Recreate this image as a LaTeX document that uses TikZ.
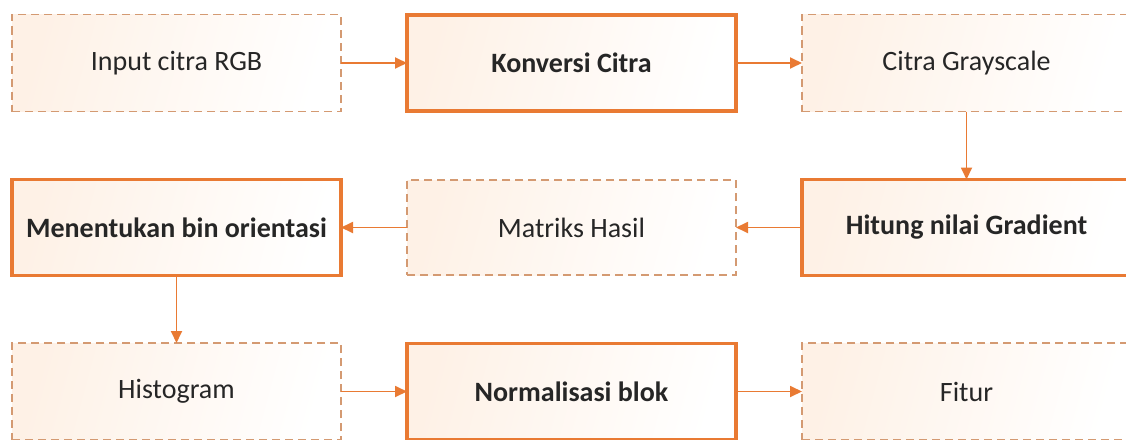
\documentclass[tikz,border=0pt]{standalone}
\usepackage{fontspec}
\setmainfont{Carlito}
\usetikzlibrary{arrows.meta}
\definecolor{orng}{HTML}{E97A33}
\definecolor{dashc}{HTML}{D49A72}
\definecolor{peach}{HTML}{FEF1E6}
\tikzset{
  x=1pt, y=-1pt,
  base/.style={rectangle, inner sep=0pt, outer sep=0pt, minimum width=329pt,
    left color=peach, right color=white, shading angle=75, font=\fontsize{28}{32}\selectfont, text=black!85},
  dbox/.style={base, draw=dashc, line width=1.4pt, dash pattern=on 8pt off 5pt, minimum height=97pt},
  tbox/.style={base, draw=orng, line width=3.6pt, minimum height=96pt, font=\fontsize{28}{32}\selectfont\bfseries},
  conn/.style={draw=orng, line width=1.8pt, -{Triangle[length=12pt,width=11pt]}}
}
\begin{document}
\begin{tikzpicture}
\useasboundingbox (0,0) rectangle (1126,439);
\clip (0,0) rectangle (1126,439);
\fill[white] (0,0) rectangle (1126,439);
\node[dbox] (n1) at (176.5,63) {Input citra RGB};
\node[tbox] (n2) at (571.5,63) {Konversi Citra};
\node[dbox] (n3) at (966.5,63) {Citra Grayscale};
\node[tbox] (n4) at (176.5,227.5) {Menentukan bin orientasi};
\node[dbox, minimum height=95pt] (n5) at (571.5,227.5) {Matriks Hasil};
\node[tbox] (n6) at (966.5,227.5) {Hitung nilai Gradient};
\node[dbox] (n7) at (176.5,391.5) {Histogram};
\node[tbox] (n8) at (571.5,391.5) {Normalisasi blok};
\node[dbox] (n9) at (966.5,391.5) {Fitur};
\draw[conn] (n1.east) -- (n2.west);
\draw[conn] (n2.east) -- (n3.west);
\draw[conn] (n3.south) -- (n6.north);
\draw[conn] (n6.west) -- (n5.east);
\draw[conn] (n5.west) -- (n4.east);
\draw[conn] (n4.south) -- (n7.north);
\draw[conn] (n7.east) -- (n8.west);
\draw[conn] (n8.east) -- (n9.west);
\end{tikzpicture}
\end{document}
